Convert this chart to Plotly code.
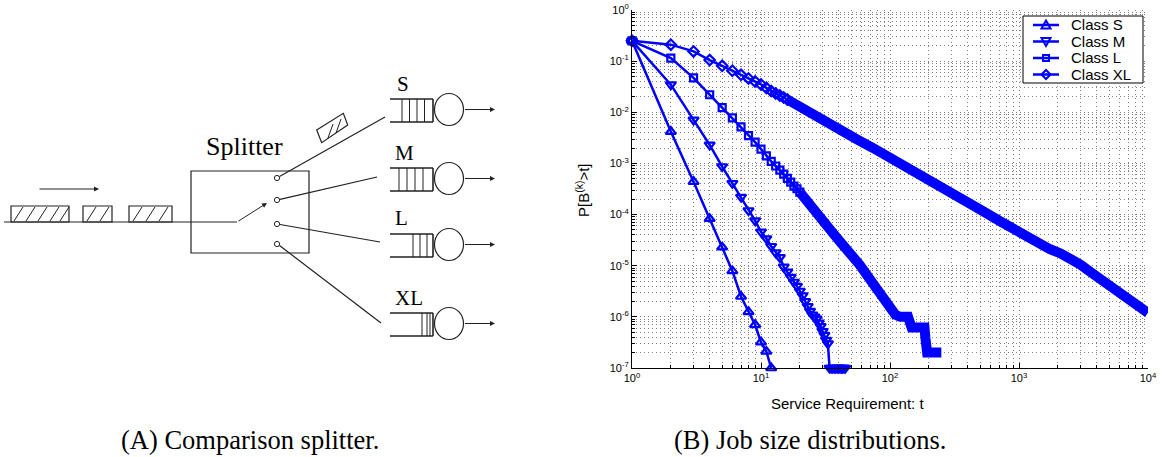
import plotly.graph_objects as go

# ---------------- data ----------------
t_S = [1, 2, 3, 4, 5, 6, 7, 8, 9, 10, 11, 12]
p_S = [0.25, 4.2e-3, 4.4e-4, 8.3e-5, 2.3e-5, 7.9e-6, 2.5e-6, 1.25e-6, 7.0e-7, 3.2e-7, 2.1e-7, 1.0e-7]

t_M = list(range(1, 46))
p_M = [0.25, 0.0347, 7.1e-3, 2.3e-3, 8.7e-4, 4.1e-4, 2.2e-4, 1.2e-4, 7.6e-5, 4.6e-5,
       3.4e-5, 2.4e-5, 1.8e-5, 1.45e-5, 9.5e-6, 7.6e-6, 6.0e-6, 4.8e-6, 4.0e-6, 3.2e-6,
       2.6e-6, 2.0e-6, 1.6e-6, 1.3e-6, 1.1e-6, 1.0e-6, 9.1e-7, 7.6e-7, 6.5e-7, 5.2e-7,
       4.4e-7, 3.5e-7, 3.0e-7,
       1e-7, 1e-7, 1e-7, 1e-7, 1e-7, 1e-7, 1e-7, 1e-7, 1e-7, 1e-7, 1e-7, 1e-7]

t_L = list(range(1, 21))
p_L = [0.25, 0.115, 0.047, 0.022, 0.0123, 7.8e-3, 5.2e-3, 3.5e-3, 2.6e-3, 1.9e-3,
       1.4e-3, 1.1e-3, 8.9e-4, 7.4e-4, 6.2e-4, 5.1e-4, 4.3e-4, 3.6e-4, 3.2e-4, 2.75e-4]
t_L_tail = [20, 25, 30, 36, 42, 49, 58, 70, 80, 89, 100, 110, 120, 138, 147, 185, 188, 191, 194, 250]
p_L_tail = [2.75e-4, 1.45e-4, 7.9e-5, 4.4e-5, 2.75e-5, 1.8e-5, 1.05e-5, 5.4e-6, 3.4e-6, 2.3e-6,
            1.4e-6, 1.1e-6, 1.0e-6, 1.0e-6, 6.2e-7, 6.2e-7, 3.9e-7, 2.9e-7, 2.0e-7, 2.0e-7]

t_XL = list(range(1, 17))
p_XL = [0.25, 0.21, 0.155, 0.105, 0.081, 0.065, 0.054, 0.046, 0.040, 0.035,
        0.030, 0.026, 0.0234, 0.0214, 0.0195, 0.0178]
t_XL_tail = [16, 20, 30, 41, 55, 74, 100, 135, 180, 245, 300, 400, 525, 700, 960, 1300,
             1740, 2100, 2500, 3000, 3560, 4300, 5100, 6000, 7240, 8500, 10000]
p_XL_tail = [0.0178, 0.0132, 7.6e-3, 4.7e-3, 3.0e-3, 2.0e-3, 1.3e-3, 8.5e-4, 5.6e-4, 3.8e-4,
             2.95e-4, 1.86e-4, 1.17e-4, 7.6e-5, 4.7e-5, 3.2e-5, 2.1e-5, 1.74e-5, 1.4e-5,
             1.05e-5, 7.6e-6, 5.5e-6, 4.0e-6, 3.0e-6, 2.2e-6, 1.6e-6, 1.2e-6]

series_names = ["Class S", "Class M", "Class L", "Class XL"]
x_tickvals = [1, 10, 100, 1000, 10000]
x_ticktext = ["10<sup>0</sup>", "10<sup>1</sup>", "10<sup>2</sup>", "10<sup>3</sup>", "10<sup>4</sup>"]
y_tickvals = [1e-7, 1e-6, 1e-5, 1e-4, 1e-3, 1e-2, 1e-1, 1]
y_ticktext = ["10<sup>-7</sup>", "10<sup>-6</sup>", "10<sup>-5</sup>", "10<sup>-4</sup>",
              "10<sup>-3</sup>", "10<sup>-2</sup>", "10<sup>-1</sup>", "10<sup>0</sup>"]

BLUE = "#0000ff"
LC = "#222222"

W, H = 1162, 457

def px(x):
    return x / W

def py(y):
    return 1 - y / H

fig = go.Figure()

# thick bands where markers merge
for tt, pp in [(t_L_tail, p_L_tail), (t_XL_tail, p_XL_tail)]:
    fig.add_trace(go.Scatter(x=tt, y=pp, mode="lines", showlegend=False, hoverinfo="skip",
                             line=dict(color=BLUE, width=10), cliponaxis=False))

symbols = ["triangle-up-open", "triangle-down-open", "square-open", "diamond-open"]
sizes = [9, 9, 7, 8]
for name, tt, pp, sym, sz in zip(series_names, [t_S, t_M, t_L, t_XL], [p_S, p_M, p_L, p_XL], symbols, sizes):
    fig.add_trace(go.Scatter(x=tt, y=pp, mode="lines+markers", name=name, showlegend=False,
                             line=dict(color=BLUE, width=2.5),
                             marker=dict(symbol=sym, size=sz, color=BLUE, line=dict(color=BLUE, width=2.2)),
                             cliponaxis=False))

grid = dict(showgrid=True, gridcolor="#808080", griddash="1px,3px", gridwidth=1)
fig.update_layout(
    width=W, height=H, autosize=False,
    margin=dict(l=0, r=0, t=0, b=0, pad=0, autoexpand=False),
    paper_bgcolor="white", plot_bgcolor="white",
    font=dict(family="Liberation Sans, Arial", color="black"),
    xaxis=dict(type="log", range=[0, 4], domain=[px(632), px(1148)], automargin=False,
               tickmode="array", tickvals=x_tickvals, ticktext=x_ticktext,
               tickfont=dict(size=11), ticks="inside", ticklen=5, tickcolor="black",
               showline=True, linecolor="black", linewidth=1, mirror=False, zeroline=False,
               minor=dict(dtick="D1", ticks="inside", ticklen=3, tickcolor="black", **grid),
               **grid),
    yaxis=dict(type="log", range=[-7, 0], domain=[py(368), py(10)], automargin=False,
               tickmode="array", tickvals=y_tickvals, ticktext=y_ticktext,
               tickfont=dict(size=11), ticks="inside", ticklen=5, tickcolor="black",
               showline=True, linecolor="black", linewidth=1, mirror=False, zeroline=False,
               minor=dict(dtick="D1", ticks="inside", ticklen=3, tickcolor="black", **grid),
               **grid),
    showlegend=False,
    hovermode=False,
)

ann = []

def text(x, y, s, size, family, xa="center", angle=0):
    ann.append(dict(x=px(x), y=py(y), xref="paper", yref="paper", text=s, showarrow=False,
                    xanchor=xa, yanchor="middle", textangle=angle,
                    font=dict(size=size, family=family, color="black")))

sans = "Liberation Sans, Arial"
serif = "Liberation Serif, Times New Roman, serif"
text(847, 403, "Service Requirement: t", 15, sans)
text(583, 190, "P[B<sup>(k)</sup>&gt;t]", 15, sans, angle=-90)
text(250, 440, "(A) Comparison splitter.", 26.5, serif)
text(810, 440, "(B) Job size distributions.", 26.5, serif)
text(244, 146, "Splitter", 26, serif)
for lab, lx, ly in [("S", 395, 84), ("M", 393, 153), ("L", 393, 218), ("XL", 393, 298)]:
    text(lx, ly, lab, 21, serif, xa="left")

def arrow(x0, y0, x1, y1):
    ann.append(dict(x=px(x1), y=py(y1), xref="paper", yref="paper", ax=x0 - x1, ay=y0 - y1,
                    axref="pixel", ayref="pixel", showarrow=True, arrowhead=2, arrowsize=1,
                    arrowwidth=1, arrowcolor=LC, text=""))

shapes = []

def line(x0, y0, x1, y1, w=1.2, color=LC):
    shapes.append(dict(type="line", xref="paper", yref="paper", x0=px(x0), y0=py(y0),
                       x1=px(x1), y1=py(y1), line=dict(color=color, width=w)))

def rect(x0, y0, x1, y1, w=1.2, fill=None, color=LC):
    d = dict(type="rect", xref="paper", yref="paper", x0=px(x0), y0=py(y0),
             x1=px(x1), y1=py(y1), line=dict(color=color, width=w))
    if fill:
        d["fillcolor"] = fill
    shapes.append(d)

def ellipse(cx, cy, rx, ry, w=1.2):
    shapes.append(dict(type="circle", xref="paper", yref="paper", x0=px(cx - rx), y0=py(cy - ry),
                       x1=px(cx + rx), y1=py(cy + ry), line=dict(color=LC, width=w)))

def poly(pts, color=LC, w=1.2):
    path = "M " + " L ".join("{} {}".format(px(a), py(b)) for a, b in pts) + " Z"
    shapes.append(dict(type="path", xref="paper", yref="paper", path=path,
                       line=dict(color=color, width=w)))

# ---------------- diagram (A) ----------------
arrow(38, 189, 99, 189)
line(4, 222, 237, 222)
for (bx0, bx1, hs) in [(11, 69, [14, 26, 38, 50, 60]), (83, 112, [87, 100]), (129, 172, [133, 146, 159])]:
    rect(bx0, 206, bx1, 222)
    for hx in hs:
        line(hx, 221, hx + 9, 207, 1)

rect(191, 171, 309, 253)
arrow(237, 222, 267, 203)
for ty in [178, 200, 224, 244]:
    ellipse(277, ty, 2.6, 2.6, 1)
line(279.5, 176.5, 385, 117)
line(280, 199.3, 377, 177)
line(280, 224.5, 380, 242)
line(279.5, 245.5, 381, 323)

poly([(321.7, 142.7), (316.7, 130), (343.3, 113.3), (347.7, 125)])
line(328, 138, 333, 124, 1)
line(336, 133, 341, 119, 1)

queues = [(99, 122, [402, 409.5, 417, 424.5]),
          (168, 191, [399, 407, 415, 423]),
          (234, 257, [413, 420, 427]),
          (313, 336, [422, 427, 430])]
for (qt, qb, bars) in queues:
    line(390, qt, 433, qt, 1.6)
    line(390, qb, 433, qb, 1.6)
    line(433, qt, 433, qb, 1.6)
    for bx in bars:
        line(bx, qt, bx, qb, 1)
    cy = (qt + qb) / 2 - 1
    ellipse(449, cy, 14.5, 16)
    arrow(463.5, cy, 495, cy)

# ---------------- legend box (B) ----------------
rect(1023, 16, 1143, 83, w=1, fill="white", color="black")
rows = [25, 41.5, 58, 74.5]
mx = 1046
for name, ry, k in zip(series_names, rows, range(4)):
    line(1033, ry, 1059, ry, 2.5, BLUE)
    if k == 0:
        poly([(mx, ry - 4.5), (mx + 4.5, ry + 3.5), (mx - 4.5, ry + 3.5)], BLUE, 2)
    elif k == 1:
        poly([(mx, ry + 4.5), (mx + 4.5, ry - 3.5), (mx - 4.5, ry - 3.5)], BLUE, 2)
    elif k == 2:
        poly([(mx - 3, ry - 3), (mx + 3, ry - 3), (mx + 3, ry + 3), (mx - 3, ry + 3)], BLUE, 2)
    else:
        poly([(mx, ry - 4.5), (mx + 4.5, ry), (mx, ry + 4.5), (mx - 4.5, ry)], BLUE, 2)
    text(1069, ry, name, 15, sans, xa="left")

fig.update_layout(annotations=ann, shapes=shapes)
fig.write_html("out.html", config={"displayModeBar": False, "staticPlot": True},
               post_script="document.body.style.margin='0px';")
